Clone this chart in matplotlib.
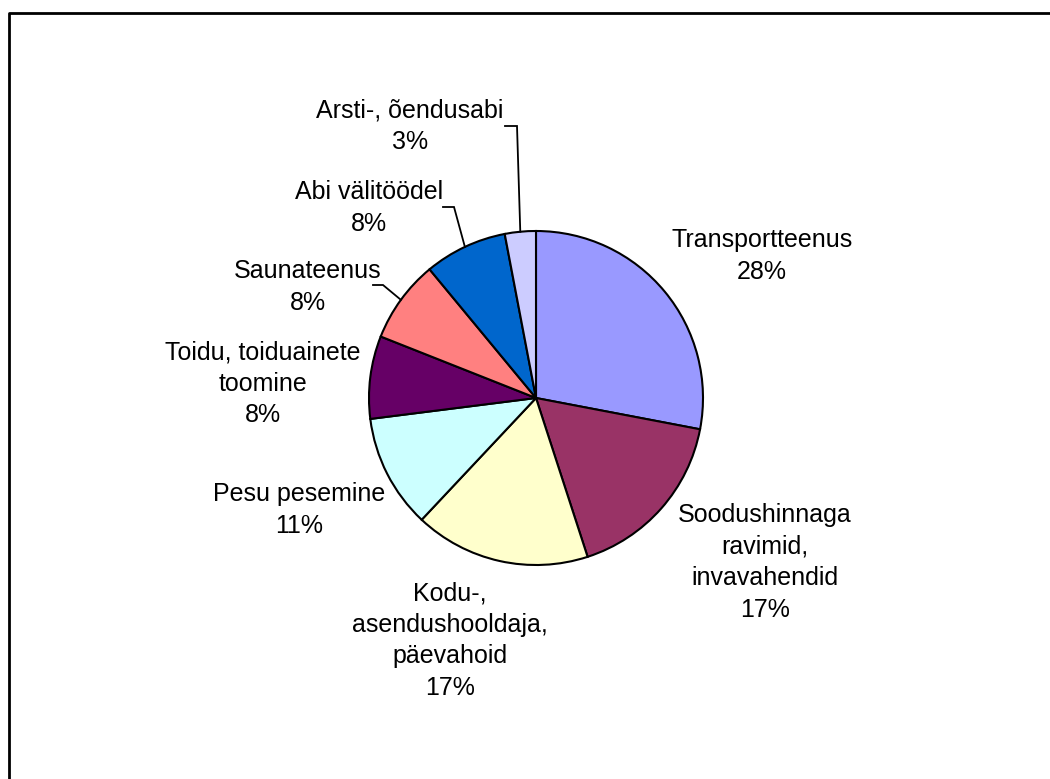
import numpy as np
import matplotlib

matplotlib.use("Agg")
import matplotlib.pyplot as plt  # noqa: E402

W, H = 1050, 779

labels = [
    "Transportteenus",
    "Soodushinnaga\nravimid,\ninvavahendid",
    "Kodu-,\nasendushooldaja,\npäevahoid",
    "Pesu pesemine",
    "Toidu, toiduainete\ntoomine",
    "Saunateenus",
    "Abi välitöödel",
    "Arsti-, õendusabi",
]
values = [28, 17, 17, 11, 8, 8, 8, 3]
colors = ["#9999FF", "#993366", "#FFFFCC", "#CCFFFF",
          "#660066", "#FF8080", "#0066CC", "#CCCCFF"]

# label placement in screen pixels: centre x, first baseline y
label_pos = [(762, 247), (765, 522), (450, 600), (299, 501),
             (263, 359), (308, 278), (369, 199), (410, 117)]
# leader lines (elbow, end) for the small top-left slices
leaders = {5: ((383, 285), (373, 285)),
           6: ((454, 207), (443, 207)),
           7: ((517, 126), (505, 126))}

CX, CY, R = 536, 398, 167
STEP = 31.7


def sy(y):
    return H - y


plt.rcParams["font.family"] = ["Liberation Sans", "DejaVu Sans"]

fig = plt.figure(figsize=(W / 100, H / 100), dpi=100)
ax = fig.add_axes([0, 0, 1, 1])

wedges, _ = ax.pie(values, colors=colors, startangle=90, counterclock=False,
                   center=(CX, sy(CY)), radius=R, frame=True,
                   wedgeprops=dict(edgecolor="black", linewidth=1.5))
ax.set_xlim(0, W)
ax.set_ylim(0, H)
ax.set_aspect("equal")
ax.axis("off")

total = sum(values)
for i, (lab, v) in enumerate(zip(labels, values)):
    x, y0 = label_pos[i]
    lines = lab.split("\n") + [f"{round(100 * v / total)}%"]
    for k, line in enumerate(lines):
        ax.text(x, sy(y0 + k * STEP), line, ha="center", va="baseline",
                fontsize=18, color="black")
    if i in leaders:
        w = wedges[i]
        mid = np.deg2rad((w.theta1 + w.theta2) / 2)
        sx, sy0 = CX + R * np.cos(mid), sy(CY) + R * np.sin(mid)
        (ex, ey), (fx, fy) = leaders[i]
        ax.plot([sx, ex, fx], [sy0, sy(ey), sy(fy)], color="black", lw=1.3,
                solid_joinstyle="miter")

# chart-area border (only left and top edges are inside the picture)
ax.plot([9, 9, W + 5], [-5, sy(12.7), sy(12.7)], color="black", lw=2,
        clip_on=False)

fig.savefig("out.png", dpi=100, facecolor="white")
